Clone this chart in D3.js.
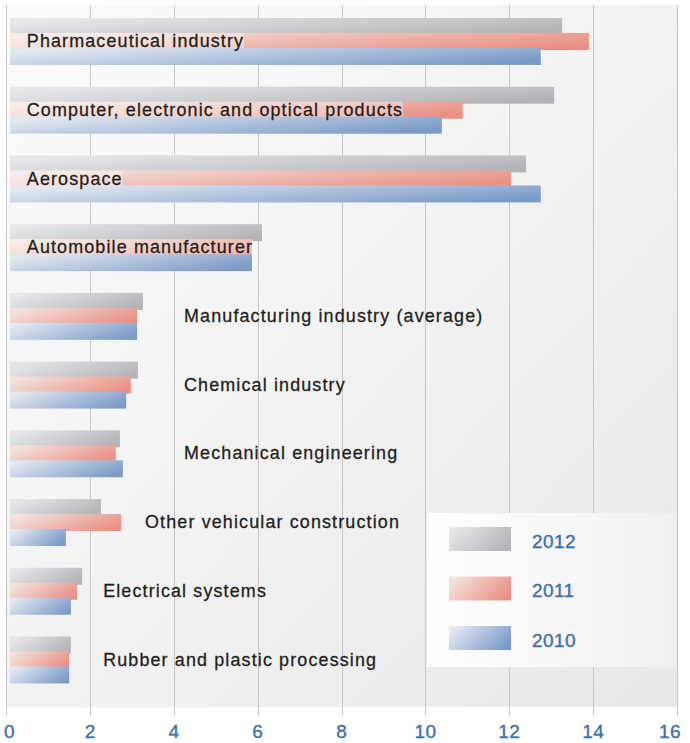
<!DOCTYPE html>
<html>
<head>
<meta charset="utf-8">
<script src="https://cdn.jsdelivr.net/npm/d3@7"></script>
<style>
  html, body { margin: 0; padding: 0; background: #ffffff; }
  svg { display: block; }
</style>
</head>
<body>
<svg id="chart" width="690" height="743"></svg>
<script>
// ---- data -------------------------------------------------------------
const categories = [
  "Pharmaceutical industry",
  "Computer, electronic and optical products",
  "Aerospace",
  "Automobile manufacturer",
  "Manufacturing industry (average)",
  "Chemical industry",
  "Mechanical engineering",
  "Other vehicular construction",
  "Electrical systems",
  "Rubber and plastic processing"
];
const years = ["2012", "2011", "2010"];
const values2012 = [13.26, 13.07, 12.40, 6.10, 3.26, 3.14, 2.71, 2.26, 1.81, 1.54];
const values2011 = [13.90, 10.89, 12.04, 5.86, 3.12, 2.97, 2.61, 2.74, 1.69, 1.50];
const values2010 = [12.75, 10.39, 12.75, 5.86, 3.12, 2.86, 2.78, 1.42, 1.54, 1.50];
const xTicks = [0, 2, 4, 6, 8, 10, 12, 14, 16];

const seriesByYear = { "2012": values2012, "2011": values2011, "2010": values2010 };

// ---- layout -----------------------------------------------------------
const W = 690, H = 743;
const plot = { left: 6.3, right: 677, top: 5, bottom: 707 };
const barInset = 3.7;            // bars start just right of the zero line
// where the outside labels sit, in axis units (null = label inside the bars)
const labelAt = [null, null, null, null, 4.24, 4.24, 4.24, 3.31, 2.31, 2.31];
const FONT = "'Liberation Sans', Arial, Helvetica, sans-serif";

const svg = d3.select("#chart");
const defs = svg.append("defs");

function linGrad(id, stops, x1, y1, x2, y2) {
  const g = defs.append("linearGradient").attr("id", id)
    .attr("x1", x1).attr("y1", y1).attr("x2", x2).attr("y2", y2);
  stops.forEach(([o, c]) => g.append("stop").attr("offset", o).attr("stop-color", c));
}
linGrad("bg", [[0, "#fbfbfb"], [0.5, "#f2f2f3"], [1, "#e8e8ea"]], 0, 0, 1, 1);
linGrad("legendBg", [[0, "#ffffff"], [1, "#f0f0f2"]], 0, 0, 1, 0);
const yearFill = {
  "2012": ["#e6e7e9", "#b3b4b7"],
  "2011": ["#f3e2dd", "#e98f83"],
  "2010": ["#e3e8f1", "#7a9ac7"]
};
years.forEach(yr => linGrad("g" + yr, [[0, yearFill[yr][0]], [1, yearFill[yr][1]]], 0, 0.3, 1, 0.7));

// ---- scales -----------------------------------------------------------
const x = d3.scaleLinear().domain([0, 16]).range([plot.left, plot.right]);
const y = d3.scaleBand().domain(categories)
  .range([plot.top, plot.bottom])
  .paddingInner(0.3166).paddingOuter(0.266).align(0.3556);
const overlap = 2;
const sub = d3.scaleBand().domain(years).range([0, y.bandwidth() - overlap]);

// ---- background and grid ---------------------------------------------
svg.append("rect")
  .attr("x", plot.left).attr("y", plot.top)
  .attr("width", plot.right - plot.left).attr("height", plot.bottom - plot.top)
  .attr("fill", "url(#bg)");

svg.append("g").selectAll("line").data(xTicks).join("line")
  .attr("x1", d => Math.round(x(d)) + 0.5).attr("x2", d => Math.round(x(d)) + 0.5)
  .attr("y1", plot.top).attr("y2", plot.bottom + 9)
  .attr("stroke", "#c6c6c8").attr("stroke-width", 1);

svg.append("g").selectAll("text").data(xTicks).join("text")
  .attr("x", (d, i) => i === 0 ? 4 : i === xTicks.length - 1 ? 681 : x(d))
  .attr("y", 738)
  .attr("text-anchor", (d, i) => i === 0 ? "start" : i === xTicks.length - 1 ? "end" : "middle")
  .attr("font-family", FONT)
  .attr("font-size", 19).attr("letter-spacing", 0.4)
  .attr("fill", "#3d6fab").attr("stroke", "#3d6fab").attr("stroke-width", 0.35)
  .text(d => d);

// ---- legend -----------------------------------------------------------
const legend = svg.append("g");
legend.append("rect")
  .attr("x", 427).attr("y", 513).attr("width", 250).attr("height", 154)
  .attr("fill", "url(#legendBg)");
const legendItem = legend.selectAll("g.item").data(years).join("g")
  .attr("class", "item")
  .attr("transform", (d, i) => `translate(449, ${527 + i * 49.5})`);
legendItem.append("rect")
  .attr("width", 62).attr("height", 24)
  .attr("fill", d => `url(#g${d})`);
legendItem.append("text")
  .attr("x", 83).attr("y", 20.5)
  .attr("font-family", FONT)
  .attr("font-size", 19).attr("letter-spacing", 0.4)
  .attr("fill", "#3d6fab").attr("stroke", "#3d6fab").attr("stroke-width", 0.35)
  .text(d => d);

// ---- bars and category labels ------------------------------------------
const rows = categories.map((c, i) => ({ name: c, index: i }));
const group = svg.append("g").selectAll("g.cat").data(rows).join("g")
  .attr("class", "cat")
  .attr("transform", d => `translate(0, ${y(d.name)})`);

group.each(function (row) {
  const g = d3.select(this);
  const x0 = x(0) + barInset;
  const bar = yr => g.append("rect")
    .attr("class", "bar-" + yr)
    .attr("x", x0)
    .attr("y", sub(yr))
    .attr("width", Math.max(0, x(seriesByYear[yr][row.index]) - x0))
    .attr("height", sub.bandwidth() + overlap)
    .attr("fill", `url(#g${yr})`);

  bar("2012");
  bar("2011");
  const inside = labelAt[row.index] === null;
  const backdrop = inside ? g.append("rect")
    .attr("x", x0).attr("y", sub("2011"))
    .attr("height", sub.bandwidth() + overlap)
    .attr("fill", "#ffffff").attr("fill-opacity", 0.35) : null;
  bar("2010");

  const label = g.append("text")
    .attr("x", inside ? x0 + 16.8 : x(labelAt[row.index]))
    .attr("y", y.bandwidth() / 2 + 5.6)
    .attr("font-family", FONT)
    .attr("font-size", 17.9).attr("letter-spacing", 1.15)
    .attr("fill", "#231f20").attr("stroke", "#231f20").attr("stroke-width", 0.3)
    .text(row.name);

  if (inside) {
    const bb = label.node().getBBox();
    backdrop.attr("width", bb.x + bb.width - x0);
  }
});
</script>
</body>
</html>
